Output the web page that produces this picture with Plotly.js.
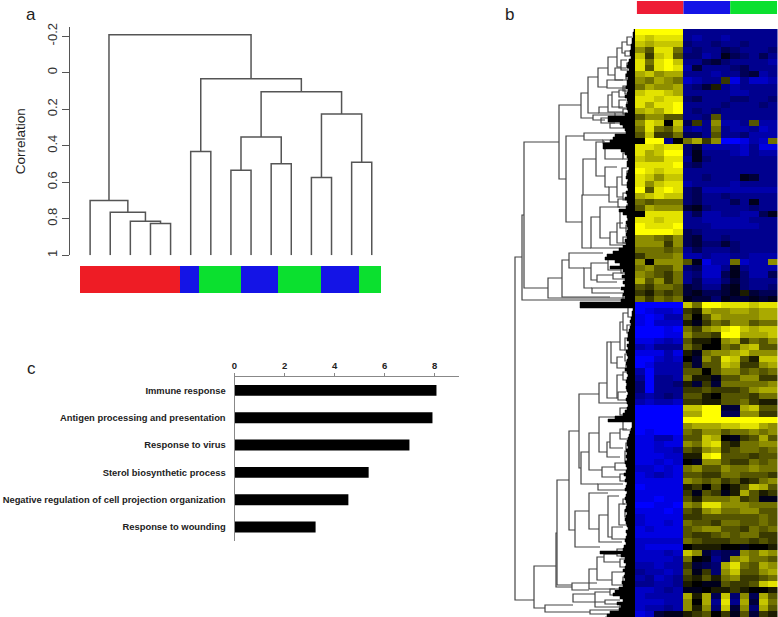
<!DOCTYPE html>
<html><head><meta charset="utf-8">
<script src="https://cdn.plot.ly/plotly-3.0.1.min.js"></script>
<style>html,body{margin:0;padding:0;background:#fff}</style></head>
<body><div id="chart" style="width:778px;height:617px"></div>
<script>
// Panel a: sample dendrogram (hclust style: negative = leaf, positive = earlier merge)
const mergeLeft  = [-4,-3,-2,-1,-6,-8,-10,6,-12,-14,9,8,5,4];
const mergeRight = [-5,1,2,3,-7,-9,-11,7,-13,-15,10,11,12,13];
const mergeCorr  = [0.826,0.813,0.764,0.70,0.431,0.535,0.499,0.352,0.574,0.491,0.226,0.104,0.034,-0.207];
const corrTicks  = [-0.2,0,0.2,0.4,0.6,0.8,1];
const corrLabels = ['-0.2','0','0.2','0.4','0.6','0.8','1'];
const sampleSpans = [5,0.95,2.1,1.85,2.15,1.9,1.1];
const sampleColors = ['#ee1c25','#1414e6','#0be02f','#1414e6','#0be02f','#1414e6','#0be02f'];
// Panel b: column groups
const groupSpans = [5,5,5];
const groupColors = ['#ee1c35','#1414e6','#0be02f'];
// Panel c: enrichment
const terms = ['Immune response','Antigen processing and presentation','Response to virus','Sterol biosynthetic process','Negative regulation of cell projection organization','Response to wounding'];
const enrichment = [8.07,7.91,6.99,5.36,4.55,3.24];
const enrichTicks = [0,2,4,6,8];
// Panel b: heat values -9 (blue) .. 0 (black) .. 9 (yellow); 15 samples per row
const heatTop = [
[9,9,9,9,9,-5,-5,-5,-5,-5,-5,-5,-5,-5,-5],
[8,7,8,8,8,-5,-6,-5,-5,-6,-5,-5,-5,-5,-5],
[7,6,7,7,7,-4,-5,-5,-4,-5,-5,-4,-5,-5,-5],
[5,3,8,8,4,-5,-4,-5,-5,-3,-4,-5,-5,-5,-4],
[7,2,7,8,3,-4,-4,-6,-5,-1,-3,-4,-5,-3,-5],
[8,4,8,9,7,-5,-5,-3,-2,-4,-5,-5,-5,-5,-6],
[8,3,8,9,8,-6,-2,-5,-5,-5,-4,-3,-5,-5,-5],
[6,7,5,6,6,-5,-5,-5,-6,-5,-5,-3,-2,-6,-5],
[5,4,6,5,4,-7,-6,-5,-5,2,-8,-5,-7,-7,-6],
[4,6,5,5,6,-5,-4,-2,1,-5,-6,-5,-5,-5,-5],
[7,8,8,7,6,-5,-5,-5,-5,-5,-6,-6,-5,-5,-5],
[8,8,7,8,8,-4,-3,-5,-5,-5,-4,-4,-5,-5,-4],
[8,6,8,8,9,-5,-5,-5,-5,-4,-5,-5,-5,-4,-5],
[6,7,6,8,9,-5,-4,-5,-4,-5,-5,-5,-5,-5,-5],
[3,5,5,3,3,-5,-5,-4,3,-5,-5,-5,-5,-5,-5],
[5,8,7,0,7,-3,2,-5,5,-6,-6,-5,3,-6,-6],
[4,8,4,3,6,-5,-6,-5,4,-5,-6,-6,-5,-7,-6],
[3,7,2,2,4,-3,-3,-5,3,-5,-5,-4,-6,-6,-6],
[0,9,9,-5,0,4,6,2,5,-9,-9,-8,-6,-7,4],
[8,8,7,8,8,-4,-2,-6,-6,-6,-6,-7,-5,-8,-8],
[8,6,7,9,9,-4,-1,-5,-5,-5,-6,-7,-5,-6,-6],
[7,6,6,8,8,-5,-1,-4,-5,-5,-5,-5,-5,-5,-5],
[8,8,8,8,9,-4,-3,-5,-5,-5,-5,-5,-5,-5,-5],
[9,8,7,8,8,-5,-5,-5,-5,-5,-5,-5,-5,-5,-5],
[8,7,5,7,7,-5,-5,-4,-5,-5,-5,-1,-2,-5,-5],
[8,5,7,8,8,-6,-5,-5,-5,-5,-6,-5,-5,-5,-5],
[9,3,8,9,8,-4,-3,-6,-6,-6,-6,-6,-6,-6,-6],
[6,7,8,7,7,-4,-3,-5,-5,-4,-5,-5,-5,-5,-5],
[4,3,4,4,4,-4,-3,-5,-5,-5,-3,-5,-1,-5,-5],
[3,6,5,5,5,-2,-1,-4,-5,-5,-5,-5,-4,-5,-5],
[0,8,8,8,8,-5,-3,-6,-6,-5,-5,-6,-6,-3,-1],
[8,8,7,8,8,-5,-5,-6,-6,-6,-6,-6,-5,-5,-5],
[9,8,8,8,9,-5,-5,-5,-6,-6,-6,-6,-6,-5,-5],
[9,9,9,9,8,-3,-4,-5,-5,-5,-5,-5,-5,-5,-5],
[5,5,4,3,5,-3,-2,-5,-5,-4,-5,-5,-5,-5,-5],
[5,5,5,2,5,-3,-2,-4,-4,-2,-4,-5,-5,-5,-5],
[4,4,4,3,4,-5,-3,-5,-5,-5,-4,-5,-5,-5,-5],
[2,4,4,4,5,-6,-6,-5,-6,-6,-5,-5,-6,-6,-6],
[5,0,5,5,5,3,-1,-8,-6,-6,4,-7,-6,-6,5],
[4,5,3,3,5,-4,-3,-7,-7,-5,-1,-5,-6,-6,-6],
[5,4,3,2,4,-5,-4,-7,-7,-3,-1,-4,-6,-6,-3],
[6,3,5,2,4,-5,-3,-6,-6,-4,-2,-4,-5,-5,-5],
[3,2,4,4,3,-2,-3,-5,-5,-2,-1,-4,-5,-5,-4],
[2,1,3,2,3,-2,-1,-3,-3,-2,-1,1,-2,-3,-3],
[4,2,4,3,4,-1,-2,-2,-4,-1,-2,-2,-1,-2,-1]];
const heatBottom = [
[-9,-9,-9,-9,-9,7,4,9,9,8,8,8,7,8,8],
[-9,-8,-7,-7,-8,2,1,6,5,5,6,6,5,6,6],
[-8,-9,-8,-6,-6,3,0,3,6,5,5,5,5,6,6],
[-8,-9,-7,-7,-7,1,-1,2,4,3,5,5,3,4,4],
[-9,-9,-9,-8,-9,4,2,5,6,8,9,7,6,7,7],
[-9,-9,-9,-8,-8,5,3,3,2,9,9,6,6,6,7],
[-8,-8,-7,-6,-7,3,1,1,0,5,6,2,4,3,5],
[-6,-7,-5,-5,-5,4,2,0,0,4,3,6,7,3,3],
[-8,-8,-8,-6,-8,1,-1,4,5,5,6,7,5,5,5],
[-9,-9,-7,-6,-7,0,-2,5,3,8,7,3,1,7,7],
[-9,-8,-6,-6,-6,2,-2,3,3,7,6,2,2,5,6],
[-6,-9,-6,-6,-6,3,3,0,3,5,5,3,4,3,4],
[-5,-9,-5,-5,-6,4,1,1,-1,3,3,5,5,2,2],
[-4,-9,-5,-5,-4,1,-2,2,-2,4,4,4,4,4,5],
[-4,-9,-5,-5,-5,2,2,3,2,2,2,3,5,6,6],
[-5,-6,-5,-4,-5,3,3,1,0,3,3,3,2,4,4],
[-6,-7,-6,-6,-7,2,2,1,1,3,3,4,2,1,1],
[-9,-9,-9,-9,-9,7,7,9,9,-2,-2,6,7,3,3],
[-9,-9,-9,-9,-9,6,6,9,9,-3,-3,5,5,2,2],
[-9,-9,-9,-9,-9,9,9,9,9,9,9,9,9,9,9],
[-9,-9,-9,-9,-9,5,6,6,6,7,7,8,8,6,5],
[-9,-8,-9,-9,-9,4,3,5,5,3,4,4,5,4,5],
[-8,-8,-6,-6,-8,3,3,7,6,0,-1,2,3,6,3],
[-8,-8,-7,-8,-8,5,4,7,8,2,1,4,4,5,5],
[-8,-8,-7,-7,-6,3,2,5,6,2,3,4,4,3,4],
[-8,-8,-8,-7,-7,1,1,8,9,3,3,3,2,3,3],
[-8,-8,-7,-8,-7,0,-1,5,5,3,2,2,4,3,4],
[-7,-7,-8,-7,-8,4,5,3,3,5,4,4,5,4,4],
[-8,-7,-6,-7,-8,3,3,2,2,4,4,3,3,3,2],
[-8,-8,-8,-8,-8,5,4,3,4,2,3,1,2,4,5],
[-9,-8,-8,-8,-8,1,2,0,3,0,1,3,7,6,3],
[-8,-8,-8,-8,-8,2,-1,3,2,-1,1,6,3,1,2],
[-8,-8,-9,-8,-8,3,1,4,4,4,5,2,3,-1,-1],
[-9,-9,-8,-8,-9,5,4,8,8,5,5,5,4,4,4],
[-8,-8,-8,-9,-8,3,2,5,6,4,4,5,5,3,3],
[-7,-8,-8,-8,-8,2,2,3,3,3,3,3,3,4,3],
[-7,-8,-8,-7,-8,4,3,3,2,4,4,3,3,4,3],
[-8,-7,-8,-8,-8,3,4,5,5,3,3,2,4,3,4],
[-8,-8,-8,-8,-8,3,2,2,3,4,3,4,4,2,2],
[-7,-7,-7,-7,-7,4,3,2,2,2,3,3,2,3,2],
[-7,-8,-8,-8,-8,0,1,1,1,0,0,-1,0,0,1],
[-7,-7,-7,-6,-7,7,5,-2,-4,-3,-3,5,4,6,5],
[-7,-7,-7,-7,-6,4,0,-1,-5,-3,5,6,4,4,3],
[-6,-6,-7,-6,-6,2,-2,-3,-4,6,8,4,3,6,5],
[-5,-6,-6,-7,-6,3,-1,2,-4,5,7,3,3,5,6],
[-6,-5,-7,-6,-5,2,1,3,1,4,5,2,2,3,4],
[-5,-5,-6,-6,-5,1,0,-1,-1,3,2,2,3,7,8],
[-7,-7,-6,-5,-6,-1,-1,0,1,1,2,1,0,0,1],
[-7,-6,-6,-6,-6,6,1,6,-3,7,-4,5,-3,6,3],
[-7,-7,-7,-6,-6,5,0,6,-5,8,-5,6,-2,7,4],
[-7,-6,-6,-5,-6,5,1,5,-4,7,-2,5,-4,6,3],
[-8,-7,-2,-1,-1,1,2,3,0,2,-1,3,-2,2,1]];
const sampleIds = Array.from({length:15},(_,i)=>i+1);
// Panel b row tree: [height, row position top, row position bottom, height of top child, height of bottom child]
const rowTree = [
[120,228,571,113,101],[113,186,271,111,3],[111,113,259,76,87],[87,249,269,73,10],[73,231,268,66,25],[66,224,239,32,51],[51,239,259,44,43],[44,234,251,27,38],
[27,229,241,18,14],[18,226,233,10,8],[14,238,244,8,6],[38,246,253,22,18],[22,244,250,12,8],[43,259,264,15,12],[12,222,227,7,5],[12,266,271,6,5],
[76,76,150,54,69],[54,64,89,47,42],[47,48,84,37,36],[37,39,58,27,28],[27,28,46,18,20],[18,19,38,13,14],[13,13,24,8,10],[8,8,16,3,3],[14,31,41,8,7],[10,22,27,5,5],
[20,39,51,9,8],[28,51,59,12,8],[36,78,84,27,20],[27,66,83,23,12],[23,63,78,16,12],[16,61,68,10,8],[16,71,79,9,8],[42,86,91,10,30],[34,89,94,12,20],[25,94,99,12,10],
[9,45,50,4,3],[8,34,39,4,3],[12,57,62,5,4],[10,58,65,5,4],[8,73,78,4,4],[12,80,85,6,5],[12,92,96,6,5],[20,84,88,8,5],
[69,107,193,51,53],[51,104,111,3,32],[32,111,114,8,20],[39,113,147,30,30],[30,114,130,16,12],[16,112,118,8,6],[12,124,130,7,5],[53,166,219,52,44],[52,130,166,39,26],
[30,138,158,18,26],[26,158,173,18,17],[18,148,168,13,12],[13,139,156,8,7],[12,164,171,6,5],[17,170,178,8,7],[44,188,219,35,3],[35,178,209,15,25],[25,203,216,18,12],
[15,181,199,8,7],[18,194,214,12,9],[8,176,183,4,4],[7,188,193,4,3],[9,196,203,5,4],[12,208,214,6,5],[8,142,148,4,3],[7,152,158,4,3],
[101,537,579,79,90],[79,504,558,78,63],[78,451,556,66,63],[66,402,501,56,60],[56,365,439,36,54],[36,354,374,28,3],[28,313,369,24,18],[24,313,334,15,18],
[15,293,321,12,10],[12,284,301,7,8],[7,278,288,3,3],[10,309,321,6,5],[18,328,339,12,10],[18,346,369,12,17],[12,343,351,7,6],[17,363,371,9,8],[15,379,386,8,5],
[8,296,304,4,4],[6,316,323,3,3],[10,325,332,5,4],[9,336,341,4,4],[8,355,362,4,3],
[54,423,455,46,37],[46,404,441,36,33],[36,388,423,3,28],[28,413,428,25,15],[25,404,419,15,12],[15,400,410,8,5],[12,392,401,6,4],[33,438,448,20,15],[37,455,461,12,8],
[9,414,420,5,4],[10,422,432,6,5],[20,434,441,10,8],[15,445,452,8,6],
[60,482,518,46,35],[46,464,500,27,36],[27,467,508,16,23],[16,475,496,10,8],[23,498,510,12,8],[36,486,513,27,13],[10,481,488,5,4],[8,490,496,4,3],[12,470,475,6,4],
[63,554,561,38,46],[38,528,551,31,23],[31,525,533,18,15],[23,543,556,12,8],[46,540,560,38,20],[90,576,583,62,45],[62,565,573,40,30],[40,563,578,25,15],[45,581,585,10,3],
[18,520,527,9,7],[15,530,538,8,6],[12,548,553,6,5],[25,560,566,12,8],[15,574,579,8,6],[30,571,575,15,8]];
// Panel b: outline of the dense leaf mass, every 3 row positions
const massEvery = 3;
const massHeight = [1,2,2,3,3,4,4,5,5,4,6,7,8,6,8,9,7,8,8,9,7,8,10,8,7,9,8,7,10,27,27,15,12,10,9,20,22,25,32,32,14,10,8,7,8,8,6,7,8,9,7,8,8,7,9,8,10,8,7,9,16,12,8,7,9,8,7,8,9,8,10,9,12,16,22,28,30,20,15,25,12,10,13,10,12,10,14,11,12,10,14,55,55,2,3,3,4,5,4,5,6,7,7,8,6,8,7,9,8,7,8,9,8,10,8,7,8,9,8,9,8,7,8,9,8,7,8,10,12,20,27,3,3,4,5,6,7,8,8,7,9,8,9,8,10,9,8,9,11,9,10,8,9,10,8,9,10,9,8,9,10,8,9,10,9,8,7,9,8,9,10,9,11,12,35,14,10,11,9,10,12,10,11,10,13,12,16,20,22,15,12,18,14,16,25,28,30,20];
const panelLabels = ['a','b','c'];

const W=778,H=617;
const dx=(a,b)=>[a/W,b/W];
const dy=(a,b)=>[1-b/H,1-a/H];
const traces=[];

// a: dendrogram from merges
const pos=[],hgt=[];
const child=id=>id<0?[-id,1]:[pos[id-1],hgt[id-1]];
const ax=[],ay=[];
mergeLeft.forEach((l,i)=>{
  const [x1,h1]=child(l),[x2,h2]=child(mergeRight[i]),h=mergeCorr[i];
  ax.push(x1,x1,x2,x2,null); ay.push(h1,h,h,h2,null);
  pos.push((x1+x2)/2); hgt.push(h);
});
traces.push({type:'scatter',mode:'lines',x:ax,y:ay,xaxis:'x',yaxis:'y',line:{color:'#555',width:1.5},hoverinfo:'skip'});

// a and b: colour strips
const strip=(spans,colors,xa,ya)=>{let b=0;const bases=spans.map(s=>{const v=b;b+=s;return v;});
  traces.push({type:'bar',orientation:'h',x:spans,y:spans.map(()=>0),base:bases,width:1,marker:{color:colors,line:{width:0}},xaxis:xa,yaxis:ya,hoverinfo:'skip'});};
strip(sampleSpans,sampleColors,'x2','y2');
strip(groupSpans,groupColors,'x6','y6');

// c: bars
traces.push({type:'bar',orientation:'h',x:enrichment,y:terms,width:0.4,marker:{color:'#000'},xaxis:'x3',yaxis:'y3',hoverinfo:'skip'});

// b: heat map
const heat=heatTop.concat(heatBottom);
traces.push({type:'heatmap',z:heat,x:sampleIds,y:heat.map((_,i)=>i),zmin:-9,zmax:9,showscale:false,zsmooth:false,
  colorscale:[[0,'#0000ff'],[0.5,'#000000'],[1,'#ffff00']],xaxis:'x4',yaxis:'y4',hoverinfo:'skip'});

// b: row tree
const tx=[],ty=[];
rowTree.forEach(([h,t,b,c1,c2])=>{tx.push(c1,h,h,c2,null);ty.push(t,t,b,b,null);});
traces.push({type:'scatter',mode:'lines',x:tx,y:ty,xaxis:'x5',yaxis:'y5',line:{color:'#444',width:1.2},hoverinfo:'skip'});
traces.push({type:'scatter',mode:'lines',x:massHeight,y:massHeight.map((_,i)=>i*massEvery),fill:'tozerox',fillcolor:'#000',line:{color:'#000',width:0.5,shape:'vh'},xaxis:'x5',yaxis:'y5',hoverinfo:'skip'});

const hidden={visible:false,fixedrange:true};
const layout={
  width:W,height:H,margin:{l:0,r:0,t:0,b:0},paper_bgcolor:'#fff',plot_bgcolor:'rgba(0,0,0,0)',showlegend:false,barmode:'overlay',
  font:{family:'"Liberation Sans",Arial,sans-serif',color:'#222'},
  xaxis:{...hidden,domain:dx(70,380),range:[0,15.41]},
  yaxis:{domain:dy(27,255.3),range:[1,-0.25],anchor:'x',tickmode:'array',tickvals:corrTicks,ticktext:corrLabels,tickangle:-90,
    tickfont:{size:13,color:'#333'},ticks:'outside',ticklen:7,tickcolor:'#555',tickwidth:1,showline:true,linecolor:'#555',linewidth:1,showgrid:false,zeroline:false,
    title:{text:'Correlation',font:{size:13.5,color:'#222'},standoff:16}},
  xaxis2:{...hidden,domain:dx(80,381),range:[0,15.05]},
  yaxis2:{...hidden,domain:dy(266,293),range:[-0.5,0.5]},
  xaxis3:{domain:dx(234.5,459),range:[0,8.97],side:'top',anchor:'y3',tickmode:'array',tickvals:enrichTicks,tickfont:{size:9.5,color:'#222',weight:'bold'},
    ticks:'outside',ticklen:3,tickcolor:'#888',showline:true,linecolor:'#888',linewidth:1,showgrid:false,zeroline:false},
  yaxis3:{domain:dy(376.7,540.7),range:[5.5,-0.5],anchor:'x3',type:'category',tickfont:{size:9.4,color:'#222',weight:'bold'},
    ticks:'outside',ticklen:6,tickcolor:'rgba(0,0,0,0)',showline:true,linecolor:'#888',linewidth:1,showgrid:false,zeroline:false},
  xaxis4:{...hidden,domain:dx(635,777.5),range:[0.5,15.5]},
  yaxis4:{...hidden,domain:dy(29,617),range:[96.5,-0.5]},
  xaxis5:{...hidden,domain:dx(510,635),range:[125,0]},
  yaxis5:{...hidden,domain:dy(29,617),range:[588,0]},
  xaxis6:{...hidden,domain:dx(636.7,777),range:[0,15]},
  yaxis6:{...hidden,domain:dy(1,14),range:[-0.5,0.5]},
  annotations:[[31,14,0],[509,14,1],[31,368,2]].map(([x,y,i])=>({xref:'paper',yref:'paper',x:x/W,y:1-y/H,text:panelLabels[i],showarrow:false,font:{size:17,color:'#222'},xanchor:'center',yanchor:'middle'}))
};
Plotly.newPlot('chart',traces,layout,{staticPlot:true,displayModeBar:false});
</script></body></html>
